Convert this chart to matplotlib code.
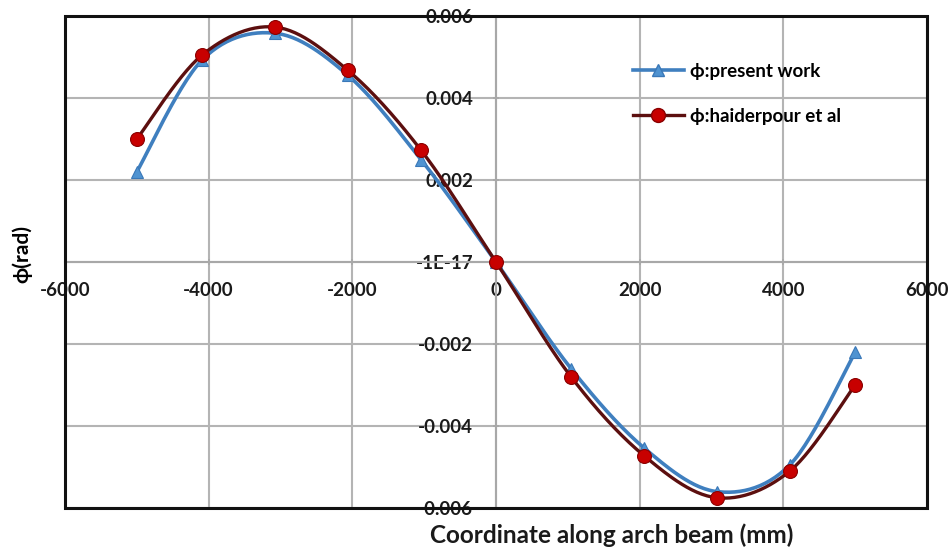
import numpy as np
import matplotlib
matplotlib.use("Agg")
import matplotlib.pyplot as plt
from matplotlib.patches import Rectangle
from matplotlib.lines import Line2D

# coordinate along the arch (mm) and rotation (rad)
x_mm = [-5000, -4090, -3075, -2065, -1045, 0, 1045, 2065, 3075, 4090, 5000]
phi_present = [0.0022, 0.00493, 0.00558, 0.00456, 0.0025, 0.0,
               -0.0026, -0.00454, -0.0056, -0.00495, -0.0022]
phi_haider = [0.0030, 0.00505, 0.00573, 0.00468, 0.00273, 0.0,
              -0.0028, -0.00473, -0.00575, -0.0051, -0.0030]

xticks = [-6000, -4000, -2000, 0, 2000, 4000, 6000]
yticks = [-0.006, -0.004, -0.002, 0.0, 0.002, 0.004, 0.006]
ytick_labels = ["-0.006", "-0.004", "-0.002", "-1E-17", "0.002", "0.004", "0.006"]

plt.rcParams['font.family'] = ['Lato', 'DejaVu Sans']
plt.rcParams['axes.unicode_minus'] = False


def smooth(xs, ys, n=30):
    # bezier smoothing through every point, like a spreadsheet "smoothed line"
    p = np.column_stack([xs, ys]).astype(float)
    p = np.vstack([p[0], p, p[-1]])
    out = []
    t = np.linspace(0, 1, n)[:, None]
    for i in range(1, len(p) - 2):
        p0, p1, p2, p3 = p[i - 1], p[i], p[i + 1], p[i + 2]
        c1 = p1 + (p2 - p0) / 6.0
        c2 = p2 - (p3 - p1) / 6.0
        seg = ((1 - t) ** 3) * p1 + 3 * ((1 - t) ** 2) * t * c1 \
            + 3 * (1 - t) * t ** 2 * c2 + t ** 3 * p2
        out.append(seg if i == 1 else seg[1:])
    seg = np.vstack(out)
    return seg[:, 0], seg[:, 1]


fig = plt.figure(figsize=(9.53, 5.52), dpi=100)
ax = fig.add_axes([0.0682, 0.0797, 0.9045, 0.8913])

blue_line = '#3f7fbf'
blue_mark = '#4f93d1'
red_line = '#5c0f0f'
red_mark = '#c80000'

sx, sy = smooth(x_mm, phi_present)
ax.plot(sx, sy, color=blue_line, lw=2.6, zorder=3)
ax.plot(x_mm, phi_present, ls='none', marker='^', ms=9,
        mfc=blue_mark, mec='#3a78b8', mew=0.8, zorder=4)

sx, sy = smooth(x_mm, phi_haider)
ax.plot(sx, sy, color=red_line, lw=2.4, zorder=5)
ax.plot(x_mm, phi_haider, ls='none', marker='o', ms=10,
        mfc=red_mark, mec='#8a0000', mew=0.8, zorder=6)

ax.set_xlim(-6000, 6000)
ax.set_ylim(-0.006, 0.006)
ax.set_xticks(xticks)
ax.set_yticks(yticks)
ax.set_yticklabels(ytick_labels)

# axes cross at the origin
ax.spines['left'].set_position(('data', 0))
ax.spines['bottom'].set_position(('data', 0))
for s in ['left', 'bottom']:
    ax.spines[s].set_color('#a8a8a8')
    ax.spines[s].set_linewidth(1.5)
for s in ['top', 'right']:
    ax.spines[s].set_visible(False)

ax.grid(True, color='#b4b4b4', lw=1.5)
ax.set_axisbelow(True)
ax.tick_params(axis='both', colors='#a8a8a8', labelcolor='#1a1a1a',
               labelsize=13.5, length=5, width=1.2, direction='inout')
ax.tick_params(axis='x', pad=12)
ax.tick_params(axis='y', pad=14)
for lab in ax.get_xticklabels() + ax.get_yticklabels():
    lab.set_fontweight('bold')

# plot area border
ax.add_patch(Rectangle((0, 0), 1, 1, transform=ax.transAxes, fill=False,
                       ec='#111111', lw=2.2, zorder=10, clip_on=False))

handles = [
    Line2D([], [], color=blue_line, lw=2.6, marker='^', ms=9,
           mfc=blue_mark, mec='#3a78b8'),
    Line2D([], [], color=red_line, lw=2.4, marker='o', ms=10,
           mfc=red_mark, mec='#8a0000'),
]
leg = ax.legend(handles, ['ϕ:present work', 'ϕ:haiderpour et al'],
                loc='upper left', bbox_to_anchor=(0.659, 0.905),
                frameon=False, handlelength=2.7, handletextpad=0.35,
                labelspacing=1.5, borderpad=0, borderaxespad=0,
                prop={'weight': 'bold', 'size': 13.5})

fig.text(0.023, 0.54, 'ϕ(rad)', rotation=90, ha='center', va='center',
         fontsize=15, fontweight='bold')
fig.text(0.642, 0.031, 'Coordinate along arch beam (mm)', ha='center',
         va='center', fontsize=17.5, fontweight='bold', color='#1a1a1a')

fig.savefig('out.png', dpi=100)
